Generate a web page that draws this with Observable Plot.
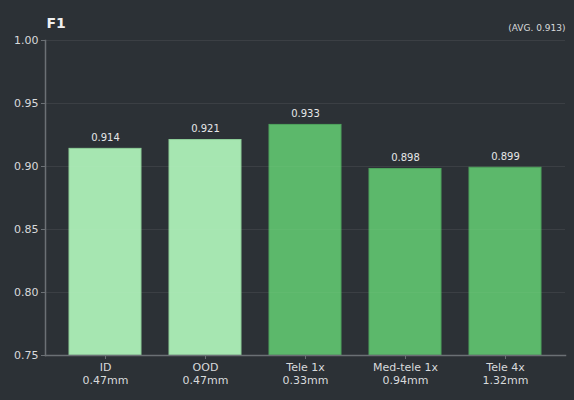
<!DOCTYPE html>
<html><head><meta charset="utf-8">
<script src="https://cdn.jsdelivr.net/npm/d3@7"></script>
<script src="https://cdn.jsdelivr.net/npm/@observablehq/plot@0.6"></script>
<style>
html,body{margin:0;padding:0;background:#2c3136;}
</style></head>
<body><div id="chart"></div>
<script>
const categories = ["ID\n0.47mm", "OOD\n0.47mm", "Tele 1x\n0.33mm", "Med-tele 1x\n0.94mm", "Tele 4x\n1.32mm"];
const values = [0.914, 0.921, 0.933, 0.898, 0.899];
const groups = ["light", "light", "dark", "dark", "dark"];
const yTicks = [0.75, 0.80, 0.85, 0.90, 0.95, 1.00];
const title = "F1";
const avgLabel = "(AVG. 0.913)";

const data = categories.map((c, i) => ({cat: c, v: values[i], g: groups[i]}));
const fillOf = {light: "#a6e6b1", dark: "#5cb86b"};
const strokeOf = {light: "#8fcf9a", dark: "#4fa35e"};

const chart = Plot.plot({
  width: 574, height: 400,
  marginLeft: 45, marginRight: 9, marginTop: 40, marginBottom: 45,
  style: {background: "#2c3136", color: "#d8dadc", fontFamily: "DejaVu Sans", fontSize: "11px"},
  x: {domain: categories, paddingInner: 0.28, paddingOuter: 0.24, label: null},
  y: {domain: [0.75, 1.0], label: null},
  marks: [
    Plot.gridY(yTicks, {stroke: "#ffffff", strokeOpacity: 0.045}),
    Plot.barY(data, {x: "cat", y1: 0.75, y2: "v", fill: d => fillOf[d.g], stroke: d => strokeOf[d.g], strokeWidth: 1}),
    Plot.gridY(yTicks, {stroke: "#ffffff", strokeOpacity: 0.03}),
    Plot.text(data, {x: "cat", y: "v", text: d => d.v.toFixed(3), dy: -11, fill: "#e6e7e8", fontSize: 10}),
    Plot.axisY(yTicks, {tickFormat: d => d.toFixed(2), stroke: "#6b7075", fill: "#d8dadc", tickSize: 4, fontSize: 11, tickPadding: 3}),
    Plot.frame({anchor: "left", stroke: "#6b7075", strokeWidth: 1.5}),
    Plot.axisX({tickSize: 4, stroke: "#6b7075", fill: "#d8dadc", fontSize: 11, tickPadding: 3, lineHeight: 1.15}),
    Plot.frame({anchor: "bottom", stroke: "#6b7075", strokeWidth: 1.5}),
    Plot.text([title], {frameAnchor: "top-left", dy: -17, dx: 1, fontWeight: "bold", fontSize: 14, fill: "#f0f0f0", textAnchor: "start", lineAnchor: "middle"}),
    Plot.text([avgLabel], {frameAnchor: "top-right", dy: -12, fontSize: 9, fill: "#d8dadc", textAnchor: "end", lineAnchor: "middle"})
  ]
});
document.getElementById("chart").append(chart);
</script></body></html>
